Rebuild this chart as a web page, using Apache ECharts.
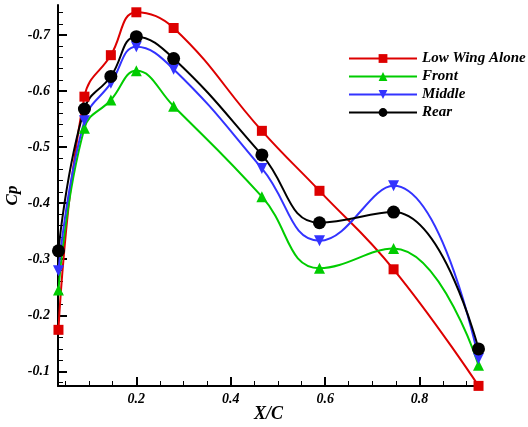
<!DOCTYPE html>
<html>
<head>
<meta charset="utf-8">
<script src="https://cdn.jsdelivr.net/npm/echarts@6/dist/echarts.min.js"></script>
<style>html,body{margin:0;padding:0;background:#fff}#c{width:528px;height:427px}</style>
</head>
<body>
<div id="c"></div>
<script>
// X/C stations
const xc = [0.035, 0.09, 0.146, 0.2, 0.279, 0.466, 0.588, 0.745, 0.925];
// Cp values per configuration
const lowWingAlone = [-0.174, -0.590, -0.664, -0.7405, -0.7125, -0.529, -0.422, -0.282, -0.074];
const front        = [-0.245, -0.5335, -0.584, -0.636, -0.573, -0.4115, -0.284, -0.319, -0.111];
const middle       = [-0.2795, -0.547, -0.614, -0.679, -0.639, -0.462, -0.333, -0.431, -0.123];
const rear         = [-0.315, -0.568, -0.626, -0.697, -0.658, -0.486, -0.365, -0.384, -0.140];
const seriesNames = ['Low Wing Alone', 'Front', 'Middle', 'Rear'];
// tick values
const xMajor = [0.2, 0.4, 0.6, 0.8];
const xMinor = [0.05, 0.1, 0.15, 0.25, 0.3, 0.35, 0.45, 0.5, 0.55, 0.65, 0.7, 0.75, 0.85, 0.9];
const yMajor = [-0.7, -0.6, -0.5, -0.4, -0.3, -0.2, -0.1];
const yMinor = [-0.74, -0.72, -0.68, -0.66, -0.64, -0.62, -0.58, -0.56, -0.54, -0.52, -0.48, -0.46, -0.44, -0.42,
                -0.38, -0.36, -0.34, -0.32, -0.28, -0.26, -0.24, -0.22, -0.18, -0.16, -0.14, -0.12, -0.08];

const X_MIN = 0.034, X_MAX = 0.926, Y_MIN = -0.7535, Y_MAX = -0.0738;
const font = {fontFamily: 'Liberation Serif', fontWeight: 'bold', fontStyle: 'italic', color: '#000'};

function pairs(ys) { return xc.map((x, i) => [x, ys[i]]); }

const styles = [
  {data: lowWingAlone, color: '#dd0000', symbol: 'rect', size: 10},
  {data: front, color: '#00cc00', symbol: 'triangle', size: 11},
  {data: middle, color: '#3333ff', symbol: 'path://M0,0 L10,0 L5,10 Z', size: 11},
  {data: rear, color: '#000000', symbol: 'circle', size: 13}
];

const chart = echarts.init(document.getElementById('c'), null, {renderer: 'canvas'});
chart.setOption({
  animation: false,
  backgroundColor: '#fff',
  grid: {left: 58, right: 49, top: 5, bottom: 41, containLabel: false, outerBoundsMode: 'none'},
  legend: {
    left: 343, top: 46, orient: 'vertical',
    itemWidth: 68, itemHeight: 11, itemGap: 3,
    textStyle: Object.assign({fontSize: 15, lineHeight: 14}, font),
    data: seriesNames
  },
  xAxis: [
    {
      type: 'value', min: X_MIN, max: X_MAX, position: 'bottom',
      name: 'X/C', nameLocation: 'middle', nameGap: 19, nameMoveOverlap: false,
      nameTextStyle: Object.assign({fontSize: 18}, font),
      axisLine: {show: true, lineStyle: {color: '#000', width: 2}},
      axisTick: {show: true, inside: true, length: 9, customValues: xMajor, lineStyle: {color: '#000', width: 2}},
      axisLabel: Object.assign({show: true, fontSize: 14, margin: 6, customValues: xMajor,
        formatter: v => v.toFixed(1)}, font),
      splitLine: {show: false}
    },
    {
      type: 'value', min: X_MIN, max: X_MAX, position: 'bottom', offset: 0,
      axisLine: {show: false},
      axisTick: {show: true, inside: true, length: 5, customValues: xMinor, lineStyle: {color: '#000', width: 1}},
      axisLabel: {show: false},
      splitLine: {show: false}
    }
  ],
  yAxis: [
    {
      type: 'value', min: Y_MIN, max: Y_MAX, inverse: true, position: 'left',
      name: 'Cp', nameLocation: 'middle', nameGap: 37, nameMoveOverlap: false,
      nameTextStyle: Object.assign({fontSize: 17}, font),
      axisLine: {show: true, lineStyle: {color: '#000', width: 2}},
      axisTick: {show: true, inside: true, length: 9, customValues: yMajor, lineStyle: {color: '#000', width: 2}},
      axisLabel: Object.assign({show: true, fontSize: 14, margin: 8, customValues: yMajor,
        formatter: v => v.toFixed(1)}, font),
      splitLine: {show: false}
    },
    {
      type: 'value', min: Y_MIN, max: Y_MAX, inverse: true, position: 'left', offset: 0,
      axisLine: {show: false},
      axisTick: {show: true, inside: true, length: 5, customValues: yMinor, lineStyle: {color: '#000', width: 1}},
      axisLabel: {show: false},
      splitLine: {show: false}
    }
  ],
  series: styles.map((s, i) => ({
    name: seriesNames[i], type: 'line', xAxisIndex: 0, yAxisIndex: 0,
    data: pairs(s.data), smooth: 0.45, clip: false,
    symbol: s.symbol, symbolSize: s.size, showAllSymbol: true,
    lineStyle: {color: s.color, width: 2},
    itemStyle: {color: s.color, borderWidth: 0},
    emphasis: {disabled: true}
  }))
});
</script>
</body>
</html>
